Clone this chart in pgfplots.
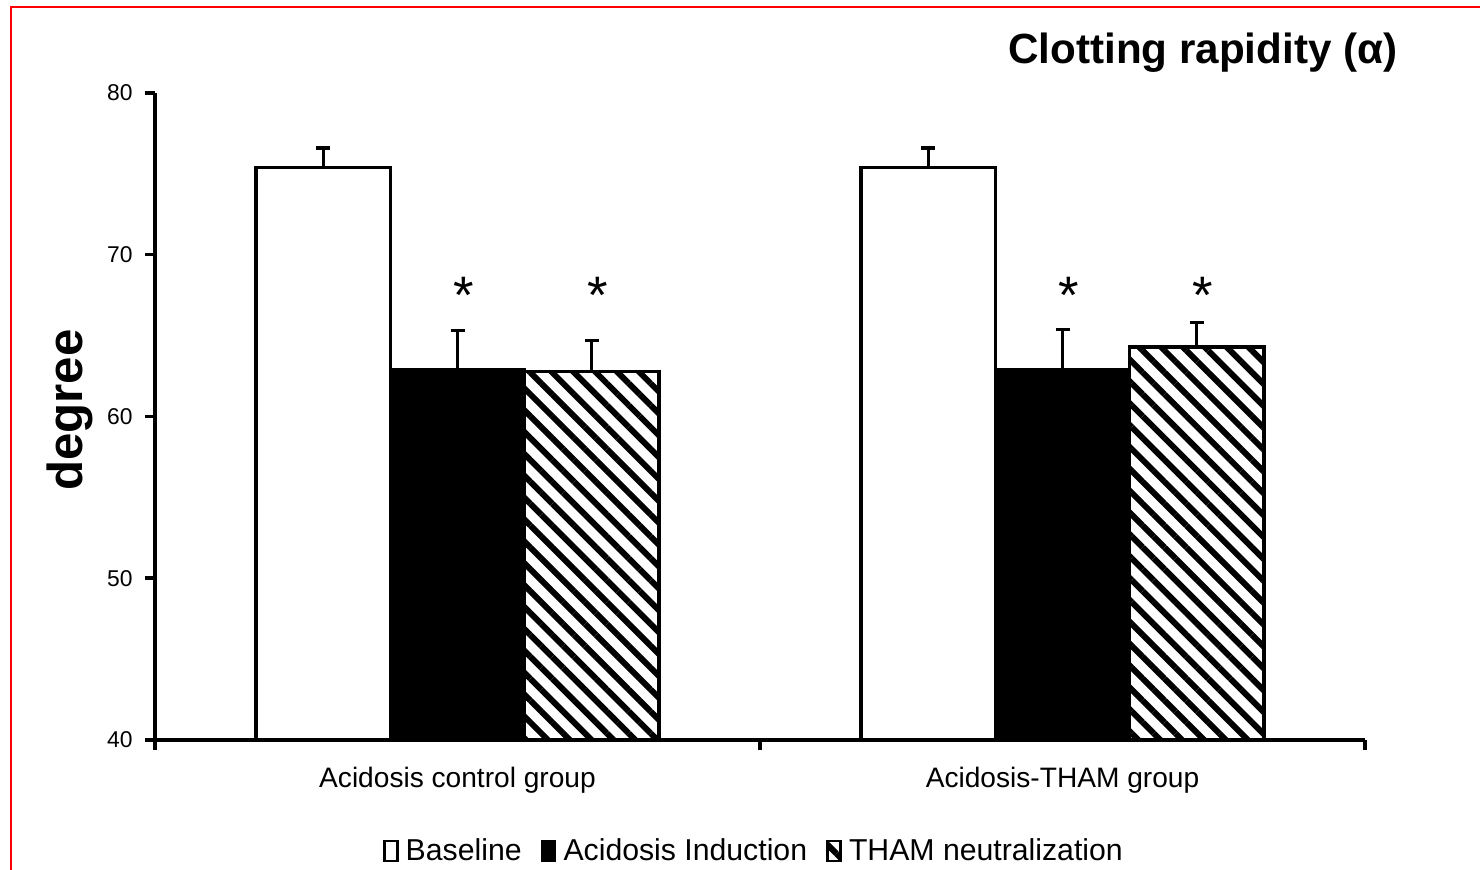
\documentclass[border=0pt]{standalone}
\usepackage{fontspec}
\setmainfont{Liberation Sans}
\usepackage{pgfplots}
\usepackage{pgfplotstable}
\pgfplotsset{compat=1.18}
\usetikzlibrary{patterns.meta}

% clotting rapidity, mean and upper error
\pgfplotstableread{
x base base_err acid acid_err tham tham_err
0 75.4 1.2 62.9 2.4 62.8 1.9
1 75.4 1.2 62.9 2.5 64.3 1.5
}\clotting

\begin{document}
\begin{tikzpicture}[x=1cm,y=1cm]
\useasboundingbox (0,0) rectangle (14.8,8.7);
\draw[red, line width=0.6pt] (0.11,0) -- (0.11,8.63) -- (14.8,8.63);
\begin{axis}[
  at={(1.55cm,1.30cm)}, anchor=south west,
  scale only axis, width=12.1cm, height=6.47cm,
  xmin=-0.5, xmax=1.5, ymin=40, ymax=80,
  axis x line*=bottom, axis y line*=left,
  axis line style={line width=1.3pt},
  tick align=outside, tick pos=left,
  xtick={0,1},
  xticklabels={Acidosis control group, Acidosis-THAM group},
  major x tick style={draw=none},
  minor xtick={-0.5,0.5,1.5},
  minor tick length=0.1cm,
  major tick length=0.1cm,
  tick style={line width=1pt, black},
  ytick={40,50,...,80},
  /pgf/number format/assume math mode=true,
  yticklabel style={font=\fontsize{6.5}{7}\selectfont},
  xticklabel style={font=\fontsize{8}{9}\selectfont, yshift=-0.05cm},
  ylabel={degree},
  ylabel style={font=\bfseries\fontsize{14}{16}\selectfont, at={(axis description cs:-0.07,0.51)}, anchor=center},
  title={Clotting rapidity (α)},
  title style={font=\bfseries\fontsize{12}{14}\selectfont, at={(axis description cs:1.037,1.03)}, anchor=east},
  legend columns=3,
  legend style={at={(axis description cs:0.497,-0.173)}, anchor=center, draw=none,
    font=\fontsize{8.6}{9}\selectfont, /tikz/every even column/.append style={column sep=0.12cm}},
  legend image code/.code={\draw[#1, line width=0.8pt] (0,-0.09cm) rectangle (0.13cm,0.11cm);},
  error bars/y dir=plus, error bars/y explicit,
  error bars/error bar style={line width=0.9pt, black},
  error bars/error mark options={rotate=90, mark size=0.07cm, line width=0.9pt, black},
]
\addplot[ybar, bar width=0.222, bar shift=0, draw=black, line width=0.9pt, fill=white]
  table[x expr=\thisrow{x}-0.222, y=base, y error=base_err] {\clotting};
\addplot[ybar, bar width=0.222, bar shift=0, draw=black, line width=0.9pt, fill=black]
  table[x=x, y=acid, y error=acid_err] {\clotting};
\addplot[ybar, bar width=0.222, bar shift=0, draw=black, line width=0.9pt,
  pattern={Lines[angle=-45, distance=4.4pt, line width=1.7pt]}]
  table[x expr=\thisrow{x}+0.222, y=tham, y error=tham_err] {\clotting};
\legend{Baseline, Acidosis Induction, THAM neutralization}
% significance marks
\addplot[draw=none, mark=none, forget plot, nodes near coords={*},
  every node near coord/.style={anchor=center, font=\fontsize{15}{16}\selectfont}]
  coordinates {(0.01,67.5) (0.232,67.5) (1.01,67.5) (1.232,67.5)};
\end{axis}
\end{tikzpicture}
\end{document}
